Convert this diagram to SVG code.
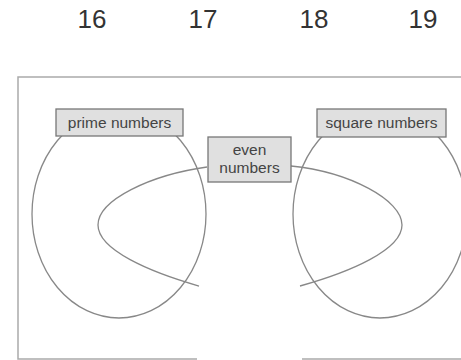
<svg xmlns="http://www.w3.org/2000/svg" width="461" height="360" viewBox="0 0 461 360">
<style>
.num{font-family:"Liberation Sans",Arial,sans-serif;font-size:26px;fill:#333;text-anchor:middle}
.lbl{font-family:"Liberation Sans",Arial,sans-serif;font-size:15.5px;fill:#444;text-anchor:middle}
.box{fill:#e0e0e0;stroke:#777;stroke-width:1.3}
.set{fill:none;stroke:#888;stroke-width:1.3}
.frame{fill:none;stroke:#aaa;stroke-width:1.5}
</style>
<rect width="461" height="360" fill="#fff"/>
<g id="numbers">
<text class="num" x="92" y="28">16</text>
<text class="num" x="203" y="28">17</text>
<text class="num" x="314" y="28">18</text>
<text class="num" x="423" y="28">19</text>
</g>
<path class="frame" d="M461,77 H18 V359 H197 M302,359 H461"/>
<g id="connectors">
<ellipse class="set" cx="119" cy="214" rx="87" ry="104"/>
<ellipse class="set" cx="380" cy="214" rx="87" ry="104"/>
<path class="set" d="M207,167 C150,175 98,200 98,225 C98,250 150,272 199,286"/>
<path class="set" d="M291,166 C350,172 402,200 402,225 C402,250 350,272 300,286"/>
</g>
<g id="prime">
<rect class="box" x="56" y="109" width="127" height="27"/>
<text class="lbl" x="119.5" y="127.5">prime numbers</text>
</g>
<g id="square">
<rect class="box" x="317" y="109" width="129" height="28"/>
<text class="lbl" x="381.5" y="128">square numbers</text>
</g>
<g id="even">
<rect class="box" x="208" y="137" width="83" height="45"/>
<text class="lbl" x="249.5" y="155">even</text>
<text class="lbl" x="249.5" y="173">numbers</text>
</g>
</svg>
